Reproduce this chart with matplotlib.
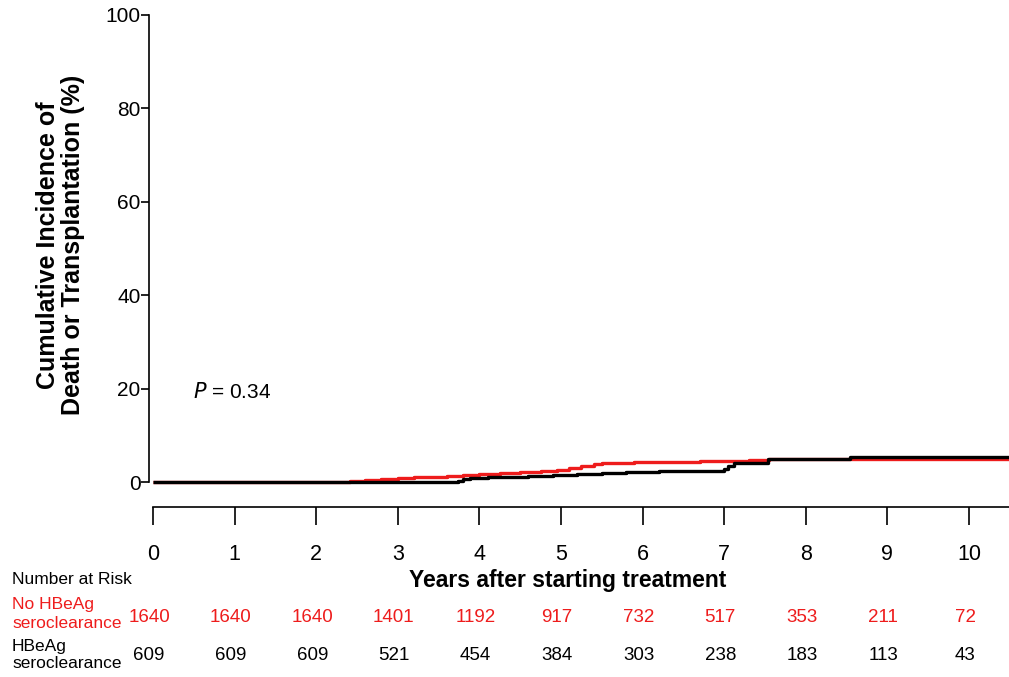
import matplotlib
matplotlib.use('Agg')
import matplotlib.pyplot as plt
import matplotlib.transforms as mtransforms

plt.rcParams['font.family'] = ['Liberation Sans', 'DejaVu Sans']

# -----------------------
# Data
# -----------------------
years = [0, 1, 2, 3, 4, 5, 6, 7, 8, 9, 10]

# No HBeAg seroclearance (red) - cumulative incidence, step function
red_t = [0, 2.42, 2.6, 2.8, 3.0, 3.2, 3.4, 3.6, 3.8, 4.0, 4.25, 4.5, 4.75, 4.95,
         5.1, 5.25, 5.4, 5.5, 5.9, 6.3, 6.7, 7.0, 7.3, 7.55, 10.5]
red_v = [0, 0.3, 0.45, 0.6, 0.8, 1.0, 1.15, 1.3, 1.5, 1.7, 1.9, 2.1, 2.35, 2.6,
         3.0, 3.4, 3.8, 4.1, 4.2, 4.35, 4.5, 4.6, 4.75, 5.0, 5.0]

# HBeAg seroclearance (black)
blk_t = [0, 3.74, 3.8, 3.88, 4.1, 4.35, 4.6, 4.9, 5.2, 5.5, 5.8, 6.2, 7.0,
         7.05, 7.12, 7.54, 8.54, 10.5]
blk_v = [0, 0.3, 0.6, 0.9, 1.0, 1.1, 1.3, 1.5, 1.7, 1.9, 2.1, 2.4, 2.7,
         3.4, 4.0, 4.9, 5.4, 5.4]

risk_red = [1640, 1640, 1640, 1401, 1192, 917, 732, 517, 353, 211, 72]
risk_blk = [609, 609, 609, 521, 454, 384, 303, 238, 183, 113, 43]

RED = '#ee1c1c'

# -----------------------
# Figure
# -----------------------
W, H = 1009, 677
fig = plt.figure(figsize=(W / 100, H / 100), dpi=100)

# axes box in pixels: left 149, top 15, right 1009, bottom 507
ax = fig.add_axes([149 / W, 1 - 507 / H, (W - 149) / W, (507 - 15) / H])
px_per_year = 81.6
px_per_pct = 4.67
ax.set_xlim(-4 / px_per_year, (W - 153) / px_per_year)
ax.set_ylim(-25 / px_per_pct, 100)

ax.plot(red_t, red_v, drawstyle='steps-post', color=RED, lw=2.4, solid_capstyle='butt')
ax.plot(blk_t, blk_v, drawstyle='steps-post', color='black', lw=2.4, solid_capstyle='butt')

for s in ['top', 'right']:
    ax.spines[s].set_visible(False)
ax.spines['left'].set_bounds(0, 100)
ax.spines['bottom'].set_bounds(0, ax.get_xlim()[1])
ax.spines['left'].set_linewidth(1.2)
ax.spines['bottom'].set_linewidth(1.2)

ax.set_yticks([0, 20, 40, 60, 80, 100])
ax.set_xticks(years)
ax.tick_params(axis='y', direction='out', length=6, width=1.2, pad=0, labelsize=15)
ax.tick_params(axis='x', direction='out', length=13, width=1.2, pad=14, labelsize=15.5)

ax.set_ylabel('Cumulative Incidence of\nDeath or Transplantation (%)',
              fontsize=18, fontweight='bold', labelpad=15, linespacing=1.05, y=0.533)

ax.text(0.49, 19.3, r'$P$ = 0.34', fontsize=15, va='center', ha='left')

fig.text(568 / W, 1 - 581 / H, 'Years after starting treatment',
         fontsize=16.5, fontweight='bold', ha='center', va='center')

# -----------------------
# Number at risk table
# -----------------------
fig.text(12 / W, 1 - 580 / H, 'Number at Risk', fontsize=12.5, ha='left', va='center')
fig.text(12 / W, 1 - 614 / H, 'No HBeAg\nseroclearance', fontsize=12.5, color=RED,
         ha='left', va='center', linespacing=1.25)
fig.text(12 / W, 1 - 655 / H, 'HBeAg\nseroclearance', fontsize=12.5, color='black',
         ha='left', va='center', linespacing=1.15)

trans = mtransforms.blended_transform_factory(ax.transData, fig.transFigure)
shift = mtransforms.ScaledTranslation(-4 / 100, 0, fig.dpi_scale_trans)
for yr, nr, nb in zip(years, risk_red, risk_blk):
    ax.text(yr, 1 - 617 / H, str(nr), transform=trans + shift, color=RED,
            fontsize=13.5, ha='center', va='center', clip_on=False)
    ax.text(yr, 1 - 655 / H, str(nb), transform=trans + shift, color='black',
            fontsize=13.5, ha='center', va='center', clip_on=False)

fig.savefig('out.png', dpi=100)
